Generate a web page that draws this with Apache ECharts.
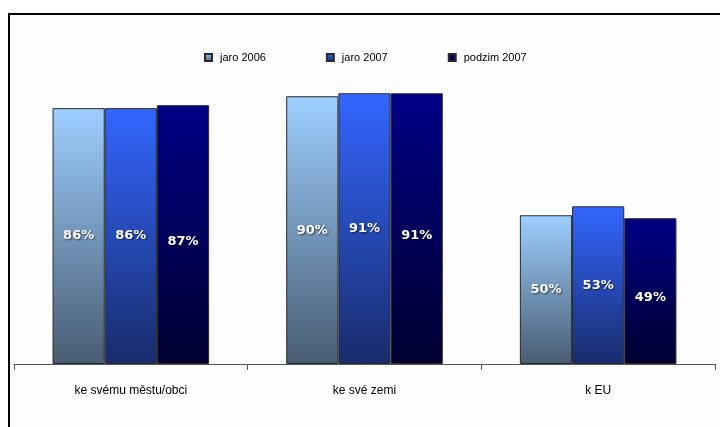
<!DOCTYPE html>
<html><head><meta charset="utf-8">
<script src="https://cdn.jsdelivr.net/npm/echarts@6/dist/echarts.min.js"></script>
<style>html,body{margin:0;padding:0;background:#fff}#c{width:720px;height:427px}</style>
</head><body><div id="c"></div>
<script>
const categories = ['ke svému městu/obci', 'ke své zemi', 'k EU'];
const seriesNames = ['jaro 2006', 'jaro 2007', 'podzim 2007'];
const jaro2006 = [86, 90, 50];
const jaro2007 = [86, 91, 53];
const podzim2007 = [87, 91, 49];

const grads = [
  ['#9dcfff', '#485c72'],
  ['#3366ff', '#182c6c'],
  ['#000086', '#000030']
];
function grad(c) {
  return new echarts.graphic.LinearGradient(0, 0, 0, 1, [{offset: 0, color: c[0]}, {offset: 1, color: c[1]}]);
}
const values = [jaro2006, jaro2007, podzim2007];
const labelOffsets = [[0, 0], [0, 0], [0, 7]];
const chart = echarts.init(document.getElementById('c'), null, {renderer: 'canvas'});
chart.setOption({
  animation: false,
  backgroundColor: '#ffffff',
  graphic: [{
    type: 'rect', left: 8, top: 13, z: -1,
    shape: {width: 720, height: 430},
    style: {fill: '#fdfdfd', stroke: '#000', lineWidth: 2}
  }],
  legend: {
    top: 47, left: 199,
    itemWidth: 7, itemHeight: 7, itemGap: 60,
    icon: 'rect',
    textStyle: {fontFamily: 'Liberation Sans, Arial', fontSize: 11, color: '#000', padding: [0, 0, 0, 3]},
    data: seriesNames
  },
  grid: {left: 14, right: 5, top: 66.5, bottom: 63},
  xAxis: {
    type: 'category', data: categories,
    axisLine: {lineStyle: {color: '#555', width: 1}},
    axisTick: {show: true, length: 6, lineStyle: {color: '#555'}},
    axisLabel: {fontFamily: 'Liberation Sans, Arial', fontSize: 12, color: '#000', margin: 21}
  },
  yAxis: {type: 'value', min: 0, max: 100, show: false, splitLine: {show: false}},
  series: values.map((v, i) => ({
    name: seriesNames[i], type: 'bar', data: v,
    barGap: '0%', barCategoryGap: '33%',
    itemStyle: {color: grad(grads[i]), borderColor: '#2a2a2a', borderWidth: 1},
    label: {
      show: true, position: 'inside', offset: labelOffsets[i],
      formatter: '{c}%', color: '#fff', fontWeight: 'bold',
      fontFamily: 'DejaVu Sans, Verdana', fontSize: 13,
      textShadowColor: 'rgba(0,0,0,0.6)', textShadowBlur: 2, textShadowOffsetX: 1, textShadowOffsetY: 1
    }
  }))
});
</script></body></html>
